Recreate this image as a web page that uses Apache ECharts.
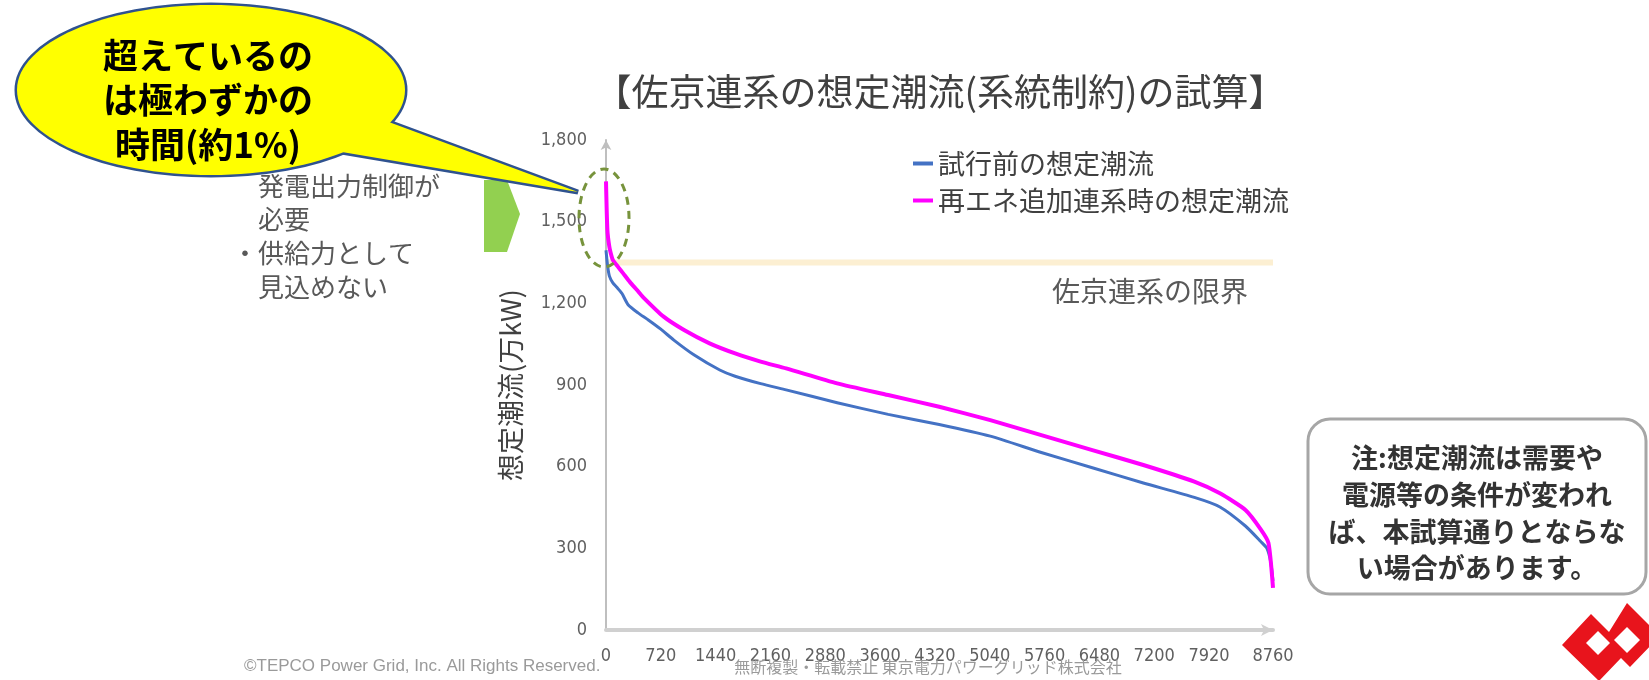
<!DOCTYPE html>
<html><head><meta charset="utf-8">
<script src="https://cdn.jsdelivr.net/npm/echarts@6/dist/echarts.min.js"></script>
<style>html,body{margin:0;padding:0;background:#fff}#c{width:1649px;height:680px}</style>
</head><body><div id="c"></div>
<script>
// ---- data ----
const seriesNames = ['試行前の想定潮流', '再エネ追加連系時の想定潮流'];
const blueHours  = [0, 20, 45, 90, 145, 210, 290, 420, 556, 720, 891, 1159, 1494, 1696, 2031, 2366, 3036, 3706, 4376, 5047, 5717, 6387, 7057, 7727, 8063, 8398, 8599, 8680, 8730, 8760];
const blueValues = [1395, 1340, 1300, 1275, 1258, 1236, 1195, 1165, 1139, 1105, 1065, 1010, 955, 932, 905, 882, 835, 792, 755, 712, 652, 596, 540, 487, 452, 382, 325, 300, 250, 180];
const pinkHours  = [0, 18, 44, 74, 92, 158, 223, 315, 407, 486, 757, 1025, 1360, 1696, 2031, 2366, 3036, 3706, 4376, 5047, 5717, 6387, 7057, 7727, 8063, 8398, 8599, 8700, 8760];
const pinkValues = [1648, 1470, 1408, 1372, 1358, 1334, 1311, 1278, 1249, 1223, 1151, 1102, 1053, 1016, 986, 961, 906, 863, 820, 771, 716, 661, 606, 545, 502, 441, 370, 320, 155];
const limitHours  = [0, 8760];
const limitValues = [1350, 1350];
const xTickValues = [0, 720, 1440, 2160, 2880, 3600, 4320, 5040, 5760, 6480, 7200, 7920, 8760];
const xTickLabels = ['0', '720', '1440', '2160', '2880', '3600', '4320', '5040', '5760', '6480', '7200', '7920', '8760'];
const yTickLabels = ['0', '300', '600', '900', '1,200', '1,500', '1,800'];
const titleText = '【佐京連系の想定潮流(系統制約)の試算】';
const yAxisName = '想定潮流(万kW)';
const limitLabel = '佐京連系の限界';
const calloutLines = ['超えているの', 'は極わずかの', '時間(約1%)'];
const leftLines = ['発電出力制御が', '必要', '供給力として', '見込めない'];
const noteLines = ['注:想定潮流は需要や', '電源等の条件が変われ', 'ば、本試算通りとならな', 'い場合があります。'];
const footerLeft = '©TEPCO Power Grid, Inc. All Rights Reserved.';
const footerMid = '無断複製・転載禁止 東京電力パワーグリッド株式会社';

const zip = (a, b) => a.map((v, i) => [v, b[i]]);
const CJK = '"Noto Sans CJK JP", sans-serif';
const NUM = '"Liberation Sans Narrow", "DejaVu Sans Condensed", sans-serif';

const chart = echarts.init(document.getElementById('c'));
const graphics = [];
// title
graphics.push({type: 'text', z: 50, style: {text: titleText, x: 940, y: 92, fill: '#404040', font: '37px ' + CJK, align: 'center', verticalAlign: 'middle'}});
// left text
const leftY = [186, 219, 253, 287];
leftLines.forEach((t, i) => graphics.push({type: 'text', z: 50, style: {text: t, x: 258, y: leftY[i], fill: '#595959', font: '26px ' + CJK, align: 'left', verticalAlign: 'middle'}}));
graphics.push({type: 'text', z: 50, style: {text: '・', x: 245, y: 253, fill: '#595959', font: '26px ' + CJK, align: 'center', verticalAlign: 'middle'}});
// callout: stroke layer then fill layer
graphics.push({type: 'polygon', z: 60, shape: {points: [[378, 118], [578, 192], [342, 152]]}, style: {fill: '#FFFF00', stroke: '#2F528F', lineWidth: 5, lineJoin: 'miter'}});
graphics.push({type: 'ellipse', z: 60, shape: {cx: 211, cy: 90, rx: 194, ry: 85}, style: {fill: '#FFFF00', stroke: '#2F528F', lineWidth: 5}});
graphics.push({type: 'polygon', z: 61, shape: {points: [[378, 118], [578, 192], [342, 152]]}, style: {fill: '#FFFF00'}});
graphics.push({type: 'ellipse', z: 61, shape: {cx: 211, cy: 90, rx: 194, ry: 85}, style: {fill: '#FFFF00'}});
const calloutY = [56, 100, 145];
calloutLines.forEach((t, i) => graphics.push({type: 'text', z: 62, style: {text: t, x: 208, y: calloutY[i], fill: '#000', font: 'bold 35px ' + CJK, align: 'center', verticalAlign: 'middle'}}));
// green arrow
graphics.push({type: 'polygon', z: 50, shape: {points: [[484, 180], [507, 180], [520, 214], [507, 252], [484, 252]]}, style: {fill: '#92D050'}});
// dashed ellipse
graphics.push({type: 'ellipse', z: 100, shape: {cx: 604, cy: 218, rx: 25, ry: 49}, style: {fill: 'none', stroke: '#77933C', lineWidth: 3, lineDash: [8, 6]}});
// limit label
graphics.push({type: 'text', z: 50, style: {text: limitLabel, x: 1150, y: 291, fill: '#595959', font: '28px ' + CJK, align: 'center', verticalAlign: 'middle'}});
// note box
graphics.push({type: 'rect', z: 50, shape: {x: 1308, y: 419, width: 338, height: 175, r: 22}, style: {fill: '#fff', stroke: '#A6A6A6', lineWidth: 3}});
const noteY = [458, 495, 532, 568];
noteLines.forEach((t, i) => graphics.push({type: 'text', z: 51, style: {text: t, x: 1477, y: noteY[i], fill: '#333', font: 'bold 27px ' + CJK, align: 'center', verticalAlign: 'middle'}}));
// logo
graphics.push({type: 'polygon', z: 50, shape: {points: [[1562, 645], [1591, 614], [1609, 632], [1627, 603], [1660, 636], [1630, 667], [1621, 658], [1599, 681]]}, style: {fill: '#E8141C'}});
graphics.push({type: 'polygon', z: 51, shape: {points: [[1586, 643], [1598, 631], [1610, 643], [1598, 655]]}, style: {fill: '#fff'}});
graphics.push({type: 'polygon', z: 51, shape: {points: [[1614, 640], [1627, 627], [1640, 640], [1627, 653]]}, style: {fill: '#fff'}});
// footer
graphics.push({type: 'text', z: 50, style: {text: footerLeft, x: 244, y: 666, fill: '#9a9a9a', font: '17px "Liberation Sans", sans-serif', align: 'left', verticalAlign: 'middle'}});
graphics.push({type: 'text', z: 50, style: {text: footerMid, x: 928, y: 667, fill: '#9a9a9a', font: '16px ' + CJK, align: 'center', verticalAlign: 'middle'}});

chart.setOption({
  animation: false,
  backgroundColor: '#fff',
  grid: {left: 606, top: 140, width: 667, height: 490, containLabel: false},
  legend: {
    orient: 'vertical', left: 908, top: 145, itemWidth: 20, itemHeight: 4, itemGap: 10,
    icon: 'rect', data: seriesNames,
    textStyle: {fontFamily: CJK, fontSize: 27, color: '#404040'}
  },
  xAxis: {
    type: 'value', min: 0, max: 8760, interval: 720,
    axisLine: {show: true, lineStyle: {color: '#D0D0D0', width: 4}, symbol: ['none', 'arrow'], symbolSize: [9, 12]},
    axisTick: {show: false}, splitLine: {show: false},
    axisLabel: {
      margin: 17, fontFamily: NUM, fontSize: 18, color: '#606060', showMinLabel: true, showMaxLabel: true,
      formatter: v => { const i = xTickValues.indexOf(v); return i >= 0 ? xTickLabels[i] : ''; }
    }
  },
  yAxis: {
    type: 'value', min: 0, max: 1800, interval: 300,
    name: yAxisName, nameLocation: 'middle', nameGap: 82, nameRotate: 90,
    nameTextStyle: {fontFamily: CJK, fontSize: 27, color: '#404040'},
    axisLine: {show: true, lineStyle: {color: '#BFBFBF', width: 2}, symbol: ['none', 'arrow'], symbolSize: [8, 10]},
    axisTick: {show: false}, splitLine: {show: false},
    axisLabel: {margin: 19, fontFamily: NUM, fontSize: 18, color: '#606060', formatter: (v, i) => yTickLabels[i]}
  },
  graphic: graphics,
  series: [
    {name: 'limit', type: 'line', data: zip(limitHours, limitValues), showSymbol: false, silent: true, z: 1,
     lineStyle: {color: '#FCEFD2', width: 6}},
    {name: seriesNames[0], type: 'line', data: zip(blueHours, blueValues), showSymbol: false, smooth: 0.2, z: 3,
     itemStyle: {color: '#4472C4'}, lineStyle: {color: '#4472C4', width: 3, join: 'round'}},
    {name: seriesNames[1], type: 'line', data: zip(pinkHours, pinkValues), showSymbol: false, smooth: 0.2, z: 4,
     itemStyle: {color: '#FF00FF'}, lineStyle: {color: '#FF00FF', width: 4, join: 'round'}}
  ]
});
</script></body></html>
